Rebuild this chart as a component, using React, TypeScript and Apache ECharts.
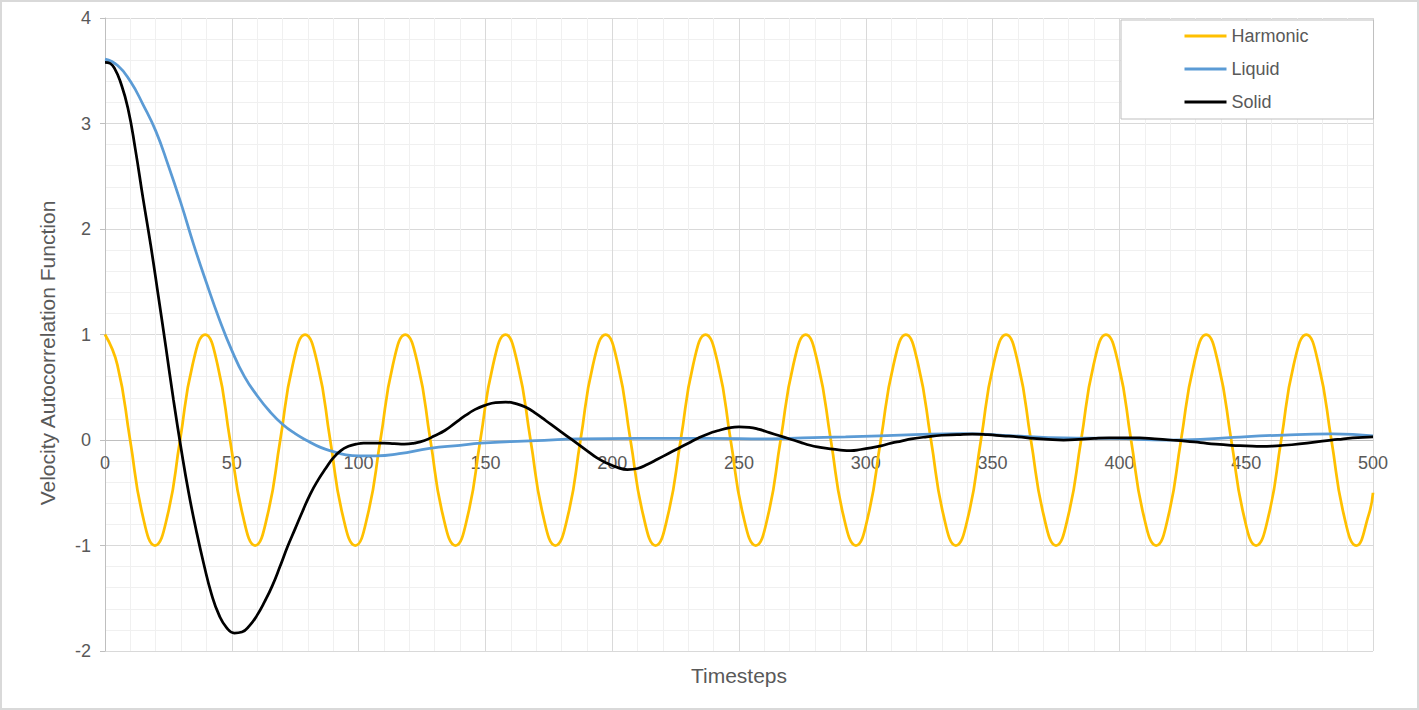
import React, { useEffect, useRef } from "react";
import * as echarts from "echarts";

const xTicks = [0, 50, 100, 150, 200, 250, 300, 350, 400, 450, 500];
const yTicks = [-2, -1, 0, 1, 2, 3, 4];

const harmonicT = [0, 4.9, 9.9, 14.8, 19.7, 24.7, 29.6, 34.5, 39.5, 44.4, 49.3, 54.3, 59.2, 64.1, 69.1, 74.0, 78.9, 83.9, 88.8, 93.7, 98.7, 103.6, 108.6, 113.5, 118.4, 123.4, 128.3, 133.2, 138.2, 143.1, 148.0, 153.0, 157.9, 162.8, 167.8, 172.7, 177.6, 182.6, 187.5, 192.4, 197.4, 202.3, 207.2, 212.2, 217.1, 222.0, 227.0, 231.9, 236.8, 241.8, 246.7, 251.6, 256.6, 261.5, 266.4, 271.4, 276.3, 281.2, 286.2, 291.1, 296.1, 301.0, 305.9, 310.9, 315.8, 320.7, 325.7, 330.6, 335.5, 340.5, 345.4, 350.3, 355.3, 360.2, 365.1, 370.1, 375.0, 379.9, 384.9, 389.8, 394.7, 399.7, 404.6, 409.5, 414.5, 419.4, 424.3, 429.3, 434.2, 439.1, 444.1, 449.0, 453.9, 458.9, 463.8, 468.7, 473.7, 478.6, 483.6, 488.5, 493.4, 498.3, 500];
const harmonicV = [
  1, 0.71, 0, -0.71, -1, -0.71, 0, 0.71,
  1, 0.71, 0, -0.71, -1, -0.71, 0, 0.71,
  1, 0.71, 0, -0.71, -1, -0.71, 0, 0.71,
  1, 0.71, 0, -0.71, -1, -0.71, 0, 0.71,
  1, 0.71, 0, -0.71, -1, -0.71, 0, 0.71,
  1, 0.71, 0, -0.71, -1, -0.71, 0, 0.71,
  1, 0.71, 0, -0.71, -1, -0.71, 0, 0.71,
  1, 0.71, 0, -0.71, -1, -0.71, 0, 0.71,
  1, 0.71, 0, -0.71, -1, -0.71, 0, 0.71,
  1, 0.71, 0, -0.71, -1, -0.71, 0, 0.71,
  1, 0.71, 0, -0.71, -1, -0.71, 0, 0.71,
  1, 0.71, 0, -0.71, -1, -0.71, 0, 0.71,
  1, 0.71, 0, -0.71, -1, -0.71, -0.5,
];

const liquidT = [0, 5, 10, 15, 20, 25, 30, 35, 40, 45, 50, 55, 60, 65, 70, 75, 80, 85, 90, 95, 100, 107, 116, 128, 140, 148, 160, 170, 187, 210, 237, 263, 275, 292, 319, 338, 358, 378, 398, 419, 432, 445, 465, 484, 500];
const liquidV = [3.61, 3.55, 3.4, 3.18, 2.93, 2.6, 2.24, 1.85, 1.49, 1.15, 0.85, 0.6, 0.42, 0.27, 0.15, 0.06, -0.01, -0.07, -0.11, -0.14, -0.15, -0.15, -0.13, -0.08, -0.05, -0.03, -0.015, -0.005, 0.01, 0.015, 0.015, 0.01, 0.02, 0.03, 0.05, 0.06, 0.04, 0.02, 0.015, 0.0, 0.006, 0.025, 0.047, 0.057, 0.04];

const solidT = [0, 2, 4, 6, 9, 12, 15, 18, 21, 24, 27, 30, 33, 36, 39, 42, 45, 48, 51, 54, 57, 60, 63, 66, 69, 72, 75, 78, 81, 84, 87, 90, 93, 96, 99, 102, 106, 110, 114, 118, 122, 126, 130, 134, 138, 142, 146, 150, 154, 158, 162, 166, 170, 174, 178, 182, 186, 190, 194, 198, 202, 206, 210, 214, 218, 222, 226, 230, 234, 238, 242, 246, 250, 254, 258, 262, 266, 270, 274, 278, 282, 286, 290, 294, 298, 302, 306, 310, 314, 318, 324, 330, 336, 342, 348, 354, 360, 366, 372, 378, 384, 390, 396, 402, 408, 414, 420, 426, 432, 438, 444, 450, 456, 462, 468, 474, 480, 486, 492, 500];
const solidV = [3.58, 3.57, 3.51, 3.4, 3.15, 2.75, 2.29, 1.85, 1.37, 0.88, 0.38, -0.08, -0.5, -0.86, -1.18, -1.46, -1.66, -1.78, -1.83, -1.82, -1.76, -1.66, -1.53, -1.38, -1.2, -1.01, -0.84, -0.67, -0.51, -0.38, -0.27, -0.17, -0.1, -0.06, -0.04, -0.03, -0.03, -0.03, -0.035, -0.04, -0.03, -0.005, 0.04, 0.09, 0.16, 0.23, 0.29, 0.33, 0.355, 0.36, 0.345, 0.31, 0.25, 0.18, 0.11, 0.04, -0.03, -0.1, -0.17, -0.22, -0.26, -0.28, -0.27, -0.23, -0.18, -0.13, -0.08, -0.03, 0.02, 0.06, 0.09, 0.115, 0.125, 0.12, 0.1, 0.07, 0.04, 0.01, -0.02, -0.05, -0.07, -0.085, -0.095, -0.1, -0.09, -0.075, -0.055, -0.03, -0.01, 0.01, 0.03, 0.045, 0.05, 0.055, 0.05, 0.04, 0.03, 0.015, 0.005, 0.0, 0.005, 0.015, 0.02, 0.02, 0.02, 0.01, 0.0, -0.01, -0.025, -0.04, -0.05, -0.055, -0.06, -0.055, -0.045, -0.03, -0.01, 0.005, 0.02, 0.03];

const zip = (t: number[], v: number[]) => t.map((x, i) => [x, v[i]]);

const FONT = "'Liberation Sans', Arial, sans-serif";
const TXT = "#595959";

const W = 1419;
const H = 710;
const GRID = { left: 105, right: 46, top: 18, bottom: 59 };
const Y_MIN = -2;
const Y_MAX = 4;

export default function App() {
  const ref = useRef<HTMLDivElement>(null);
  useEffect(() => {
    if (!ref.current) return;
    const chart = echarts.init(ref.current, null, { renderer: "svg" });
    const gridH = H - GRID.top - GRID.bottom;
    const zeroOffset = -(gridH * (0 - Y_MIN)) / (Y_MAX - Y_MIN);
    chart.setOption({
      animation: false,
      backgroundColor: "#ffffff",
      grid: { ...GRID, containLabel: false },
      legend: {
        data: ["Harmonic", "Liquid", "Solid"],
        orient: "vertical",
        left: 1121,
        top: 20,
        itemWidth: 42,
        itemHeight: 14,
        itemGap: 15,
        padding: [7, 65, 8, 62],
        backgroundColor: "#ffffff",
        borderColor: "#bfbfbf",
        borderWidth: 1,
        borderRadius: 0,
        itemStyle: { opacity: 0 },
        lineStyle: { width: 3 },
        textStyle: { fontSize: 18, color: TXT, fontFamily: FONT },
      },
      xAxis: {
        type: "value",
        min: 0,
        max: 500,
        interval: 50,
        position: "bottom",
        offset: zeroOffset,
        axisLine: { show: true, onZero: false, lineStyle: { color: "#bfbfbf", width: 1 } },
        axisTick: { show: false },
        axisLabel: {
          margin: 14,
          fontSize: 18,
          color: TXT,
          fontFamily: FONT,
          formatter: (v: number) => (xTicks.includes(v) ? String(v) : ""),
        },
        splitLine: { show: true, lineStyle: { color: "#d9d9d9", width: 1 } },
        minorTick: { show: false, splitNumber: 5 },
        minorSplitLine: { show: true, lineStyle: { color: "#f0f0f0", width: 1 } },
      },
      yAxis: {
        type: "value",
        min: Y_MIN,
        max: Y_MAX,
        interval: 1,
        axisLine: { show: true, onZero: false, lineStyle: { color: "#bfbfbf", width: 1 } },
        axisTick: { show: true, length: 5, lineStyle: { color: "#bfbfbf" } },
        axisLabel: {
          margin: 14,
          fontSize: 18,
          color: TXT,
          fontFamily: FONT,
          formatter: (v: number) => (yTicks.includes(v) ? String(v) : ""),
        },
        splitLine: { show: true, lineStyle: { color: "#d9d9d9", width: 1 } },
        minorTick: { show: false, splitNumber: 5 },
        minorSplitLine: { show: true, lineStyle: { color: "#f0f0f0", width: 1 } },
      },
      graphic: [
        {
          type: "rect",
          silent: true,
          shape: { x: 1, y: 1, width: W - 2, height: H - 2 },
          style: { fill: "none", stroke: "#d9d9d9", lineWidth: 2 },
          z: 100,
        },
        {
          type: "text",
          x: 47,
          y: 353,
          rotation: Math.PI / 2,
          style: {
            text: "Velocity Autocorrelation Function",
            fontSize: 21,
            fontFamily: FONT,
            fill: TXT,
            align: "center",
            verticalAlign: "middle",
          },
        },
        {
          type: "text",
          x: 739,
          y: 675,
          style: {
            text: "Timesteps",
            fontSize: 21,
            fontFamily: FONT,
            fill: TXT,
            align: "center",
            verticalAlign: "middle",
          },
        },
      ],
      series: [
        {
          name: "Harmonic",
          type: "line",
          data: zip(harmonicT, harmonicV),
          smooth: true,
          symbol: "none",
          lineStyle: { color: "#FFC000", width: 2.75 },
          itemStyle: { color: "#FFC000" },
          z: 2,
        },
        {
          name: "Liquid",
          type: "line",
          data: zip(liquidT, liquidV),
          smooth: true,
          symbol: "none",
          lineStyle: { color: "#5B9BD5", width: 2.75 },
          itemStyle: { color: "#5B9BD5" },
          z: 3,
        },
        {
          name: "Solid",
          type: "line",
          data: zip(solidT, solidV),
          smooth: true,
          symbol: "none",
          lineStyle: { color: "#000000", width: 2.75 },
          itemStyle: { color: "#000000" },
          z: 4,
        },
      ],
    });
    return () => chart.dispose();
  }, []);
  return (
    <div
      ref={ref}
      style={{ position: "fixed", left: 0, top: 0, width: W, height: H, background: "#fff" }}
    />
  );
}
